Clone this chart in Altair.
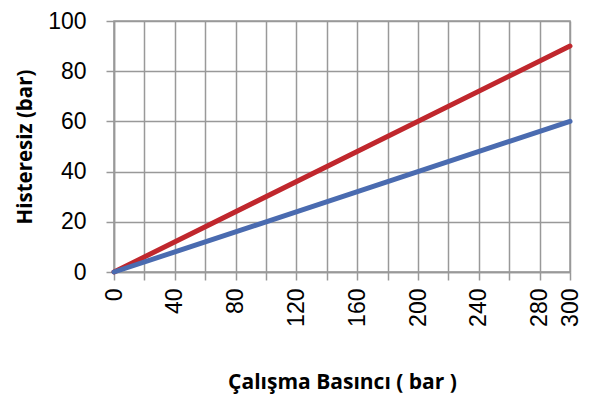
import altair as alt
import pandas as pd

pressure = [0, 300]
series_red = [0, 90]
series_blue = [0, 60]
series_names = ["Kırmızı", "Mavi"]
colors = ["#C0272D", "#4A6BB0"]

rows = []
for p, v in zip(pressure, series_red):
    rows.append({"p": p, "h": v, "s": series_names[0]})
for p, v in zip(pressure, series_blue):
    rows.append({"p": p, "h": v, "s": series_names[1]})
df = pd.DataFrame(rows)

x_vals = list(range(0, 301, 20))
y_vals = list(range(0, 101, 20))

chart = alt.Chart(df).mark_line(strokeWidth=5, strokeCap="round").encode(
    x=alt.X("p:Q", scale=alt.Scale(domain=[0, 300], nice=False),
            axis=alt.Axis(values=x_vals, title="Çalışma Basıncı ( bar )",
                          labelExpr="(datum.value % 40 == 0 || datum.value == 300) ? datum.label : ''",
                          labelAngle=270, labelAlign="right", labelBaseline="middle",
                          labelOverlap=False, labelFontSize=23, labelFont="Liberation Sans",
                          labelColor="#000", labelPadding=8, tickSize=8, tickColor="#999",
                          tickWidth=1.5, domainColor="#999", domainWidth=1.5,
                          gridColor="#999", gridWidth=1.5, titleFont="Open Sans",
                          titleFontSize=21, titleFontWeight="bold", titleColor="#000",
                          titleBaseline="middle", titleY=110)),
    y=alt.Y("h:Q", scale=alt.Scale(domain=[0, 100], nice=False),
            axis=alt.Axis(values=y_vals, title="Histeresiz (bar)",
                          labelFontSize=23, labelFont="Liberation Sans", labelColor="#000",
                          labelPadding=20, tickSize=8, tickColor="#999", tickWidth=1.5,
                          domainColor="#999", domainWidth=1.5, gridColor="#999",
                          gridWidth=1.5, titleFont="Open Sans", titleFontSize=20.5,
                          titleFontWeight="bold", titleColor="#000",
                          titleBaseline="middle", titleX=-89)),
    color=alt.Color("s:N", scale=alt.Scale(domain=series_names, range=colors), legend=None),
).properties(
    width=456, height=251,
    autosize=alt.AutoSizeParams(type="none"),
    padding={"left": 106, "top": 13, "right": 12, "bottom": 123},
).configure_view(stroke="#999", strokeWidth=1.5)

chart.save("out.html", embed_options={"renderer": "svg", "actions": False})
